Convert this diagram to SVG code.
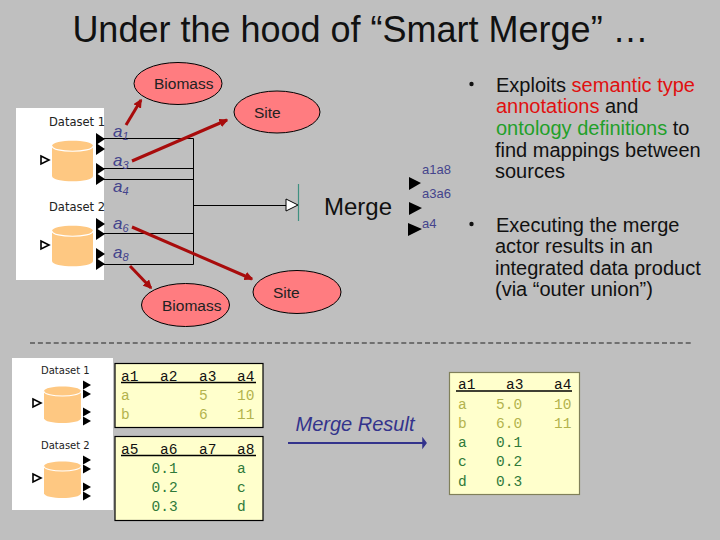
<svg xmlns="http://www.w3.org/2000/svg" width="720" height="540" viewBox="0 0 720 540">
<style>
text{font-family:"Liberation Sans",Arial,sans-serif}
.el{fill:#ff7c80;stroke:#000;stroke-width:1}
.elt{font-size:15.500px;fill:#222}
.attr{font-size:17px;fill:#44448c}
.sub{font-size:11px;fill:#44448c}
.out{font-size:13px;fill:#44448c}
.wire{fill:none;stroke:#000;stroke-width:1}
.red{stroke:#a80c0c;stroke-width:3;fill:none;marker-end:url(#ra)}
.port{fill:#000}
.cyl{fill:#fec882}
.ds{font-size:11.500px;fill:#222;font-family:"DejaVu Sans",sans-serif}
.ds2{font-size:10px;fill:#222;font-family:"DejaVu Sans",sans-serif}
.open{fill:#fff;stroke:#000;stroke-width:1.6}
.bul{font-size:20px;fill:#111}
.tb{fill:#ffffcc;stroke:#000;stroke-width:1.2}
.m text{font-family:"Liberation Mono",monospace;font-size:14.500px}
.m .h{fill:#111}.m .y{fill:#b3b34d}.m .g{fill:#2f7a3a}
.hr{stroke:#000;stroke-width:1.6}
</style>
<defs>
<marker id="ra" markerWidth="9" markerHeight="9" refX="5" refY="3" orient="auto" markerUnits="userSpaceOnUse" viewBox="0 0 6 6"><path d="M0 0L6 3L0 6z" fill="#a80c0c"/></marker>
<g id="cyl"><path class="cyl" d="M0 7C0 0 41 0 41 7V37C41 44 0 44 0 37z"/><path d="M0 7C0 14 41 14 41 7" fill="none" stroke="#fff" stroke-width="1.2"/></g>
<path id="p" class="port" d="M0-6L9 0L0 6z"/>
<path id="ps" class="port" d="M0-4.500L8 0L0 4.500z"/>
<path id="o" class="open" d="M0-4L8 0L0 4z"/>
</defs>
<rect width="720" height="540" fill="#bfbfbf"/>
<text id="title" x="360.500" y="42" text-anchor="middle" font-size="36" fill="#111">Under the hood of “Smart Merge” …</text>

<g id="dataset-panel-top"><rect x="16" y="108" width="88" height="172" fill="#fff"/>
<text class="ds" x="49" y="126">Dataset 1</text><use href="#cyl" x="52" y="139"/><use href="#o" x="41" y="160"/>
<text class="ds" x="49" y="211">Dataset 2</text><use href="#cyl" x="52" y="224"/><use href="#o" x="41" y="245"/>
<use href="#p" x="96" y="139"/><use href="#p" x="96" y="149"/><use href="#p" x="96" y="169"/><use href="#p" x="96" y="179"/><use href="#p" x="96" y="224"/><use href="#p" x="96" y="234"/><use href="#p" x="96" y="254"/><use href="#p" x="96" y="264"/></g>

<g id="connectors">
<path class="wire" d="M103 138.500H193.500V264.500H103M103 168.500H193.500M103 179.500H193.500M103 233.500H193.500M193.500 205.500H286"/>
<path d="M286 199L298 205L286 211z" fill="#fff" stroke="#000"/>
<path d="M298.500 184V221" stroke="#3f9080" stroke-width="1.200"/>
<path class="red" d="M126 125L141 100"/>
<path class="red" d="M132 161L227 120"/>
<path class="red" d="M132 227L252 279"/>
<path class="red" d="M130 266L151 288"/>
<path d="M288 443H423" stroke="#33338c" stroke-width="2" fill="none"/><path d="M423 439L426 443L423 447z" fill="#33338c" stroke="#33338c" stroke-width="1.500"/>
</g>

<g id="biomass-top"><ellipse class="el" cx="178" cy="83.500" rx="44" ry="21"/><text class="elt" x="154" y="89">Biomass</text></g>
<g id="site-top"><ellipse class="el" cx="277" cy="112" rx="43" ry="21"/><text class="elt" x="254" y="118">Site</text></g>
<g id="biomass-bottom"><ellipse class="el" cx="185.500" cy="305" rx="44" ry="21.500"/><text class="elt" x="162" y="311">Biomass</text></g>
<g id="site-bottom"><ellipse class="el" cx="297" cy="292" rx="44" ry="21.500"/><text class="elt" x="273" y="298">Site</text></g>

<g id="attr-labels">
<text class="attr" x="113" y="137" font-style="italic">a<tspan class="sub" dy="3">1</tspan></text>
<text class="attr" x="113" y="166" font-style="italic">a<tspan class="sub" dy="3">3</tspan></text>
<text class="attr" x="113" y="192" font-style="italic">a<tspan class="sub" dy="3">4</tspan></text>
<text class="attr" x="113" y="229" font-style="italic">a<tspan class="sub" dy="3">6</tspan></text>
<text class="attr" x="113" y="258" font-style="italic">a<tspan class="sub" dy="3">8</tspan></text>
</g>

<g id="merge"><text x="324" y="215" font-size="24" fill="#111">Merge</text>
<path class="port" d="M409 177L421 183L409 190z"/><path class="port" d="M409 202L422 208L409 215z"/><path class="port" d="M408 223L422 229L408 236z"/>
<text class="out" x="422" y="174">a1a8</text><text class="out" x="422" y="198">a3a6</text><text class="out" x="422" y="228">a4</text></g>

<g id="bullets">
<circle cx="471.500" cy="84" r="2.200" fill="#111"/><circle cx="471.500" cy="224" r="2.200" fill="#111"/>
<text class="bul" x="496" y="92">Exploits <tspan fill="#e01010">semantic type</tspan></text>
<text class="bul" x="496" y="113"><tspan fill="#e01010">annotations</tspan> and</text>
<text class="bul" x="496" y="135"><tspan fill="#1fa02a">ontology definitions</tspan> to</text>
<text class="bul" x="495" y="157">find mappings between</text>
<text class="bul" x="495" y="178">sources</text>
<text class="bul" x="496" y="232">Executing the merge</text>
<text class="bul" x="495" y="253">actor results in an</text>
<text class="bul" x="495" y="275">integrated data product</text>
<text class="bul" x="495" y="296">(via “outer union”)</text>
</g>

<path id="divider" d="M30 343H693" stroke="#222" stroke-width="1.200" stroke-dasharray="5 2.900"/>

<g id="dataset-panel-bottom"><rect x="12" y="358" width="101" height="152" fill="#fff"/>
<text class="ds2" x="41" y="374">Dataset 1</text><use href="#cyl" transform="translate(44 385) scale(.9)"/><use href="#o" x="33" y="403"/>
<text class="ds2" x="41" y="449">Dataset 2</text><use href="#cyl" transform="translate(44 460) scale(.9)"/><use href="#o" x="33" y="478"/>
<use href="#ps" x="83" y="385"/><use href="#ps" x="83" y="394"/><use href="#ps" x="83" y="412"/><use href="#ps" x="83" y="421"/><use href="#ps" x="83" y="460"/><use href="#ps" x="83" y="469"/><use href="#ps" x="83" y="487"/><use href="#ps" x="83" y="496"/></g>

<g id="table-top" class="m"><rect class="tb" x="115" y="363.500" width="148" height="64"/>
<path class="hr" d="M121 382.500H256"/>
<text class="h" x="121" y="381">a1</text><text class="h" x="160" y="381">a2</text><text class="h" x="199" y="381">a3</text><text class="h" x="237" y="381">a4</text>
<text class="y" x="121" y="400">a</text><text class="y" x="199" y="400">5</text><text class="y" x="237" y="400">10</text>
<text class="y" x="121" y="419">b</text><text class="y" x="199" y="419">6</text><text class="y" x="237" y="419">11</text></g>

<g id="table-mid" class="m"><rect class="tb" x="115" y="436.500" width="148" height="84"/>
<path class="hr" d="M121 455.500H256"/>
<text class="h" x="121" y="454">a5</text><text class="h" x="160" y="454">a6</text><text class="h" x="199" y="454">a7</text><text class="h" x="237" y="454">a8</text>
<text class="g" x="151.500" y="473">0.1</text><text class="g" x="237" y="473">a</text>
<text class="g" x="151.500" y="492">0.2</text><text class="g" x="237" y="492">c</text>
<text class="g" x="151.500" y="511">0.3</text><text class="g" x="237" y="511">d</text></g>

<text id="merge-result" x="295.500" y="431" font-size="20" font-style="italic" fill="#33338c">Merge Result</text>

<g id="table-result" class="m"><rect x="449.500" y="372.500" width="130" height="122" fill="#ffffcc" stroke="#80805a" stroke-width="1.200"/>
<path class="hr" d="M456 391H572"/>
<text class="h" x="458" y="389">a1</text><text class="h" x="506" y="389">a3</text><text class="h" x="554" y="389">a4</text>
<text class="y" x="458" y="409">a</text><text class="y" x="496" y="409">5.0</text><text class="y" x="554" y="409">10</text>
<text class="y" x="458" y="428">b</text><text class="y" x="496" y="428">6.0</text><text class="y" x="554" y="428">11</text>
<text class="g" x="458" y="447">a</text><text class="g" x="496" y="447">0.1</text>
<text class="g" x="458" y="466">c</text><text class="g" x="496" y="466">0.2</text>
<text class="g" x="458" y="486">d</text><text class="g" x="496" y="486">0.3</text></g>
</svg>
